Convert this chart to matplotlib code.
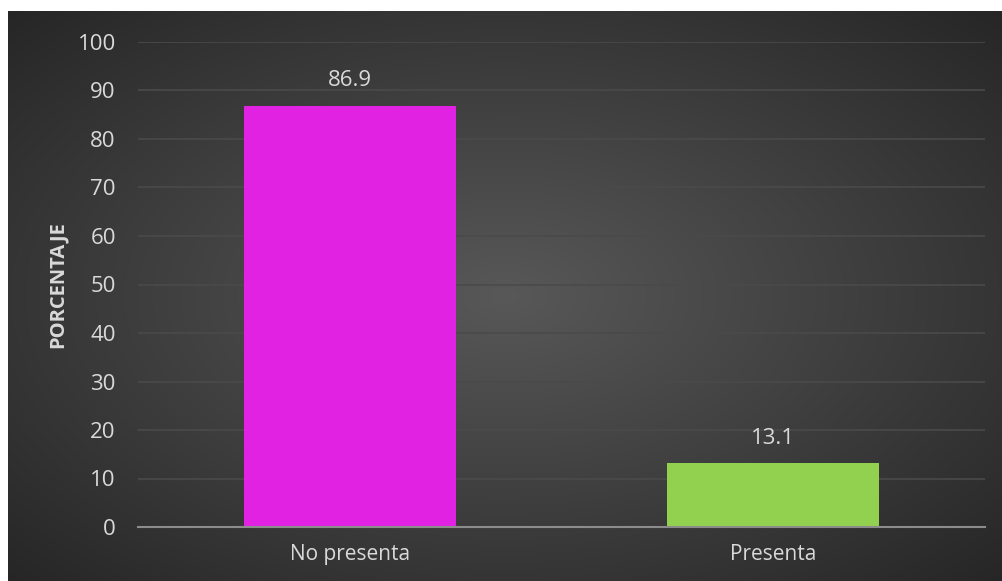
import numpy as np
import matplotlib.pyplot as plt

categories = ["No presenta", "Presenta"]
values = [86.9, 13.1]
bar_colors = ["#E222E2", "#92D050"]
yticks = [0, 10, 20, 30, 40, 50, 60, 70, 80, 90, 100]

plt.rcParams["font.family"] = ["Open Sans", "DejaVu Sans"]
text_col = "#D9D9D9"

fig = plt.figure(figsize=(10.03, 5.81), dpi=100)
fig.patch.set_facecolor("white")

# radial gradient background
bg = fig.add_axes([8 / 1003, 0, 995 / 1003, 570 / 581])
xx, yy = np.meshgrid(np.linspace(-1, 1, 400), np.linspace(-1, 1, 240))
r = np.clip(np.sqrt(xx**2 + yy**2) / np.sqrt(2), 0, 1)
shade = 0.345 - (0.345 - 0.15) * r
img = np.dstack([shade, shade, shade])
bg.imshow(img, aspect="auto", extent=[0, 1, 0, 1])
bg.axis("off")

ax = fig.add_axes([138 / 1003, 54 / 581, 847 / 1003, 485 / 581])
ax.set_facecolor("none")
x = np.arange(len(categories))
bars = ax.bar(x, values, width=0.5, color=bar_colors, zorder=3)
ax.set_xlim(-0.5, 1.5)
ax.set_ylim(0, 100)
ax.set_yticks(yticks)
ax.set_xticks(x)
ax.set_xticklabels(categories)
ax.yaxis.grid(True, color="#4A4A4A", linewidth=1.2, zorder=0)
ax.tick_params(axis="both", length=0, colors=text_col)
ax.tick_params(axis="x", pad=12, labelsize=15)
ax.tick_params(axis="y", pad=16, labelsize=16)
for s in ["top", "right", "left"]:
    ax.spines[s].set_visible(False)
ax.spines["bottom"].set_color("#8C8C8C")
ax.spines["bottom"].set_linewidth(1.5)
ax.spines["bottom"].set_zorder(4)

for b, v in zip(bars, values):
    ax.text(b.get_x() + b.get_width() / 2, v + 3, f"{v:.1f}",
            ha="center", va="bottom", color=text_col, fontsize=16)

ax.set_ylabel("PORCENTAJE", color=text_col, fontsize=14.5, fontweight="bold", labelpad=7)

fig.savefig("out.png", dpi=100)
